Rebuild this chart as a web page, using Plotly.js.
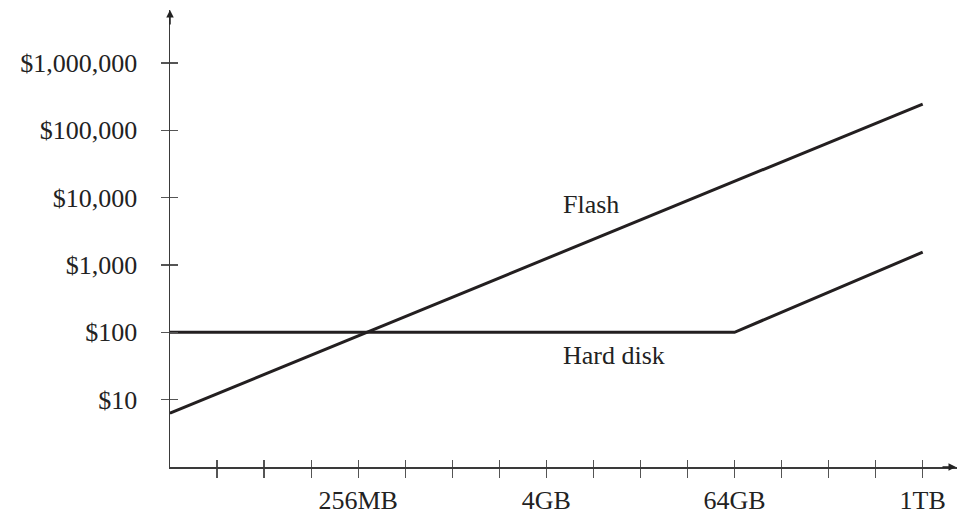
<!DOCTYPE html>
<html>
<head>
<meta charset="utf-8">
<script src="https://cdn.plot.ly/plotly-3.0.1.min.js"></script>
<style>html,body{margin:0;padding:0;background:#fff;}#chart{width:957px;height:514px;}</style>
</head>
<body>
<div id="chart"></div>
<script>
// Capacities in MB, prices in US dollars
const flashCapacity = [16, 1048576];
const flashPrice = [6.3, 245000];
const hddCapacity = [16, 65536, 1048576];
const hddPrice = [100, 100, 1550];

const xTickVals = [32, 64, 128, 256, 512, 1024, 2048, 4096, 8192, 16384, 32768, 65536, 131072, 262144, 524288, 1048576];
const xTickText = ['', '', '', '256MB', '', '', '', '4GB', '', '', '', '64GB', '', '', '', '1TB'];
const yTickVals = [10, 100, 1000, 10000, 100000, 1000000];
const yTickText = ['$10', '$100', '$1,000', '$10,000', '$100,000', '$1,000,000'];

const seriesLabels = [
  {text: 'Flash', x: 7910, y: 7950},
  {text: 'Hard disk', x: 11100, y: 46}
];

const lineColor = '#231f20';
const axisColor = '#3a3a3a';
const tickColor = '#555555';
const font = {family: '"Liberation Serif", "Times New Roman", serif', size: 26, color: '#222222'};

const xRange = [Math.log10(16), Math.log10(16) + 5.036];
const yRange = [0, 6.786];

const traces = [
  {x: flashCapacity, y: flashPrice, mode: 'lines', line: {color: lineColor, width: 3}, hoverinfo: 'skip', showlegend: false},
  {x: hddCapacity, y: hddPrice, mode: 'lines', line: {color: lineColor, width: 3}, hoverinfo: 'skip', showlegend: false},
  // empty trace so the overlay axes (upper/right halves of the crossing ticks) are drawn
  {x: [], y: [], xaxis: 'x2', yaxis: 'y2', mode: 'lines', hoverinfo: 'skip', showlegend: false}
];

const baseX = {type: 'log', range: xRange, tickvals: xTickVals, showgrid: false, zeroline: false, tickcolor: tickColor, tickwidth: 1.2, fixedrange: true};
const baseY = {type: 'log', range: yRange, tickvals: yTickVals, showgrid: false, zeroline: false, tickcolor: tickColor, tickwidth: 1.2, fixedrange: true};

const layout = {
  width: 957, height: 514,
  margin: {l: 170, r: 0, t: 10, b: 47, pad: 0},
  paper_bgcolor: '#ffffff', plot_bgcolor: '#ffffff',
  font: font,
  showlegend: false,
  xaxis: Object.assign({}, baseX, {ticktext: xTickText, ticks: 'outside', ticklen: 9, showline: true, linecolor: axisColor, linewidth: 1.5, ticklabelstandoff: 0, tickfont: font}),
  xaxis2: Object.assign({}, baseX, {overlaying: 'x', anchor: 'y', side: 'bottom', ticks: 'inside', ticklen: 7, showticklabels: false, showline: false}),
  yaxis: Object.assign({}, baseY, {ticktext: yTickText, ticks: 'outside', ticklen: 8, showline: true, linecolor: axisColor, linewidth: 1.5, ticklabelstandoff: 18, tickfont: font}),
  yaxis2: Object.assign({}, baseY, {overlaying: 'y', anchor: 'x', side: 'left', ticks: 'inside', ticklen: 8, showticklabels: false, showline: false}),
  annotations: seriesLabels.map(l => ({
    x: Math.log10(l.x), y: Math.log10(l.y), xref: 'x', yref: 'y', text: l.text, showarrow: false, font: font
  })).concat([
    {x: 1, y: 0, xref: 'paper', yref: 'paper', ax: -16, ay: 0, axref: 'pixel', ayref: 'pixel', text: '', showarrow: true, arrowhead: 2, arrowsize: 1, arrowwidth: 1.5, arrowcolor: '#222222', standoff: 0},
    {x: 0, y: 1, xref: 'paper', yref: 'paper', ax: 0, ay: 16, axref: 'pixel', ayref: 'pixel', text: '', showarrow: true, arrowhead: 2, arrowsize: 1, arrowwidth: 1.5, arrowcolor: '#222222', standoff: 0}
  ])
};

Plotly.newPlot('chart', traces, layout, {staticPlot: true, displayModeBar: false});
</script>
</body>
</html>
